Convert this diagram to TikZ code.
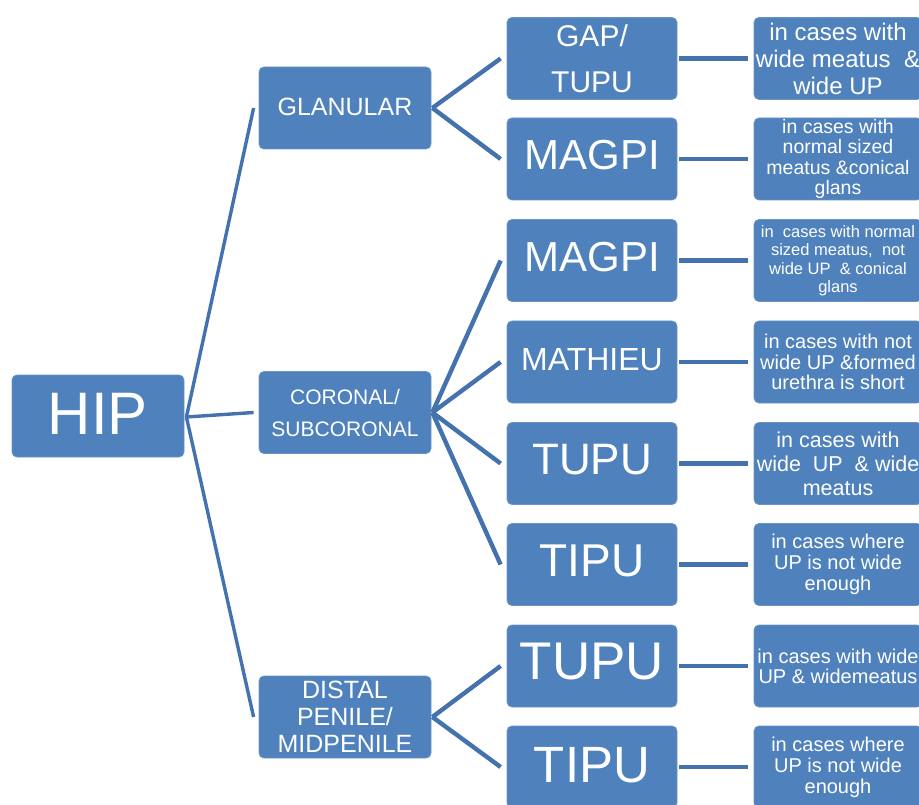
\documentclass[tikz,border=0pt]{standalone}
\usepackage{fontspec}
\setmainfont{Liberation Sans}
\definecolor{boxblue}{HTML}{4F81BD}
\definecolor{lineblue}{HTML}{4472AE}
\newcommand{\upby}[2]{\raisebox{#1}[\height][\depth]{#2}}
\begin{document}
\begin{tikzpicture}[x=1pt,y=-1pt,
  bx/.style={fill=boxblue, draw=boxblue!85!white, line width=0.8pt, rounded corners=5pt,
    text=white, inner sep=0pt, align=center},
  lone/.style={bx, minimum width=172pt, minimum height=82pt},
  ltwo/.style={bx, minimum width=172pt, minimum height=82pt},
  lthree/.style={bx, minimum width=170pt, minimum height=82pt},
  lfour/.style={bx, minimum width=168pt, minimum height=82pt},
  conn/.style={draw=lineblue, line width=4.4pt},
  connthin/.style={draw=lineblue, line width=3.4pt}
]
\useasboundingbox (0,0) rectangle (919,805);
\clip (0,0) rectangle (919,805);

% level 1
\node[lone, font=\fontsize{60}{66}\selectfont] (hip) at (98,416) {\upby{2pt}{HIP}};

% level 2
\node[ltwo, font=\fontsize{25}{30}\selectfont] (glan) at (345,108) {\upby{1pt}{GLANULAR}};
\node[ltwo, font=\fontsize{21}{32}\selectfont] (cor) at (345,412.5) {CORONAL/\\SUBCORONAL};
\node[ltwo, font=\fontsize{25}{27}\selectfont] (dist) at (345,717) {DISTAL\\PENILE/\\MIDPENILE};

% level 3
\node[lthree, font=\fontsize{30}{46}\selectfont] (g1) at (592,58.5) {GAP/\\TUPU};
\node[lthree, font=\fontsize{42}{46}\selectfont] (g2) at (592,159) {\upby{4pt}{MAGPI}};
\node[lthree, font=\fontsize{42}{46}\selectfont] (c1) at (592,260.5) {\upby{3pt}{MAGPI}};
\node[lthree, font=\fontsize{32}{36}\selectfont] (c2) at (592,362) {\upby{2pt}{MATHIEU}};
\node[lthree, font=\fontsize{44}{48}\selectfont] (c3) at (592,463.5) {\upby{4pt}{TUPU}};
\node[lthree, font=\fontsize{46}{50}\selectfont] (c4) at (592,564.5) {\upby{4pt}{TIPU}};
\node[lthree, font=\fontsize{53}{58}\selectfont] (d1) at (592,666) {\upby{4pt}{TUPU}};
\node[lthree, font=\fontsize{51}{56}\selectfont] (d2) at (592,767) {\upby{2pt}{TIPU}};

% level 4
\node[lfour, font=\fontsize{24}{27}\selectfont] (rg1) at (838,58.5) {in cases with\\wide meatus~~\&\\wide UP};
\node[lfour, font=\fontsize{19.5}{20.5}\selectfont] (rg2) at (838,159) {in cases with\\normal sized\\meatus \&conical\\glans};
\node[lfour, font=\fontsize{16.5}{18.5}\selectfont] (rc1) at (838,260.5) {in~~cases with normal\\sized meatus,~~not\\wide UP~~\& conical\\glans};
\node[lfour, font=\fontsize{20}{20.5}\selectfont] (rc2) at (838,362) {in cases with not\\wide UP \&formed\\urethra is short};
\node[lfour, font=\fontsize{21.5}{24}\selectfont] (rc3) at (838,463.5) {in cases with\\wide~~UP~~\& wide\\meatus};
\node[lfour, font=\fontsize{20}{21}\selectfont] (rc4) at (838,564.5) {in cases where\\UP is not wide\\enough};
\node[lfour, font=\fontsize{20}{20}\selectfont] (rd1) at (838,666) {in cases with wide\\UP \& widemeatus};
\node[lfour, font=\fontsize{20}{21}\selectfont] (rd2) at (838,767) {in cases where\\UP is not wide\\enough};

% connectors level 1 -> 2
\foreach \b in {glan,cor,dist}
  \draw[connthin] ([xshift=2pt,yshift=-1pt]hip.east) -- ([xshift=-5pt]\b.west);

% connectors level 2 -> 3
\foreach \b in {g1,g2}
  \draw[conn] ([xshift=1pt]glan.east) -- ([xshift=-6pt]\b.west);
\foreach \b in {c1,c2,c3,c4}
  \draw[conn] ([xshift=1pt]cor.east) -- ([xshift=-6pt]\b.west);
\foreach \b in {d1,d2}
  \draw[conn] ([xshift=1pt]dist.east) -- ([xshift=-6pt]\b.west);

% connectors level 3 -> 4
\foreach \a/\b in {g1/rg1,g2/rg2,c1/rc1,c2/rc2,c3/rc3,c4/rc4,d1/rd1,d2/rd2}
  \draw[conn] ([xshift=2pt]\a.east) -- ([xshift=-6pt]\b.west);
\end{tikzpicture}
\end{document}
